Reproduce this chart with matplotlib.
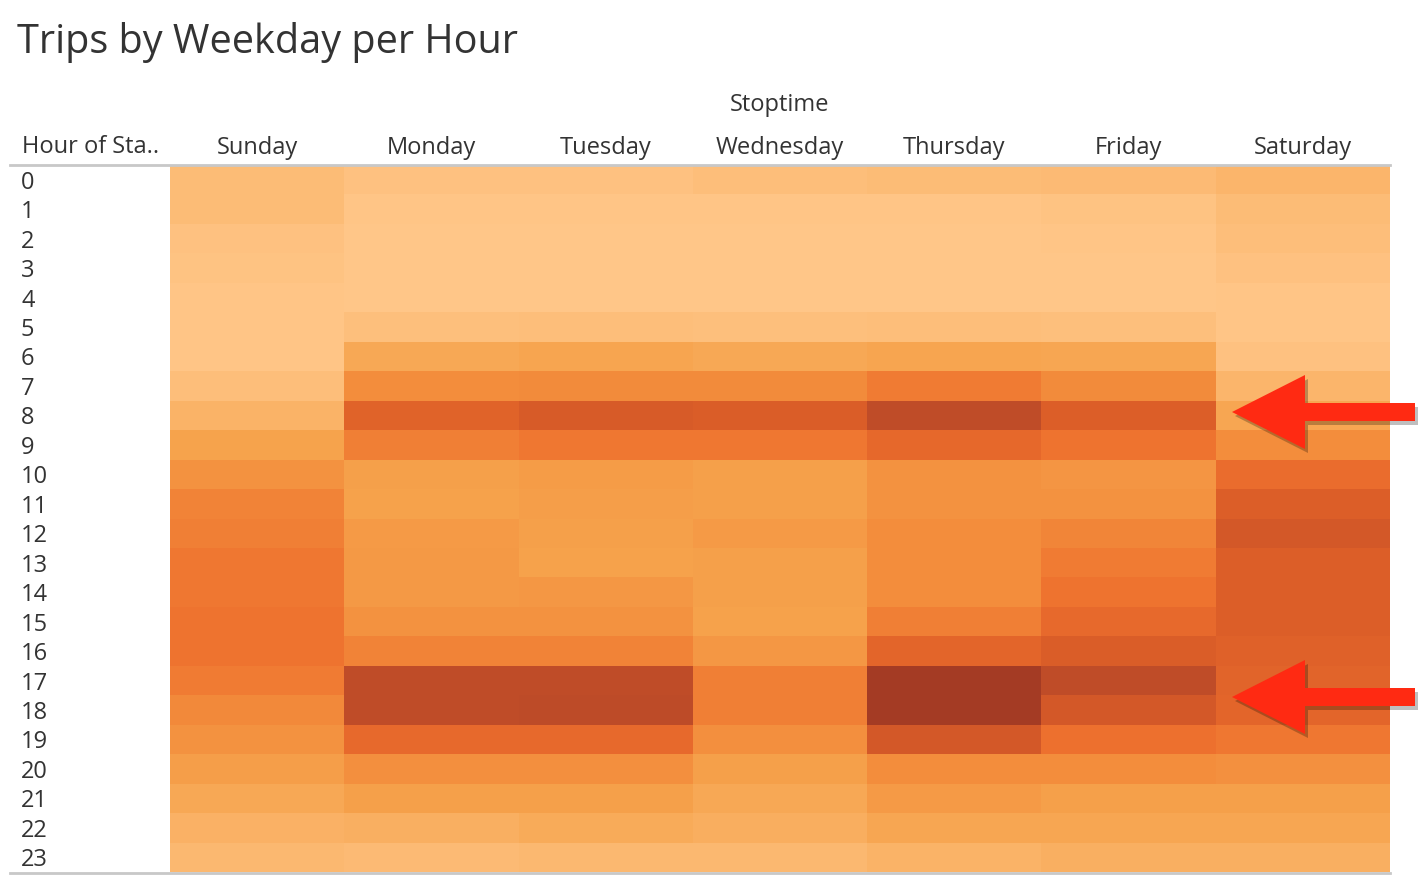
import numpy as np
import matplotlib
matplotlib.use("Agg")
import matplotlib.pyplot as plt
from matplotlib.colors import LinearSegmentedColormap
from matplotlib.patches import Polygon
from matplotlib.lines import Line2D
from matplotlib.transforms import blended_transform_factory

days = ["Sunday", "Monday", "Tuesday", "Wednesday", "Thursday", "Friday", "Saturday"]
hours = list(range(24))

sunday    = [6, 6, 3, 2, 1, 1, 1, 5, 11, 20, 30, 38, 40, 44, 44, 46, 46, 42, 35, 30, 23, 17, 12, 8]
monday    = [3, 1, 0, 0, 0, 4, 17, 33, 57, 40, 22, 21, 25, 26, 26, 30, 38, 78, 78, 52, 32, 22, 13, 7]
tuesday   = [3, 1, 0, 0, 0, 5, 19, 34, 63, 44, 24, 23, 22, 21, 27, 30, 38, 78, 79, 52, 32, 22, 16, 8]
wednesday = [5, 1, 0, 0, 0, 4, 17, 34, 61, 44, 22, 22, 25, 22, 22, 21, 27, 40, 40, 32, 22, 17, 14, 8]
thursday  = [6, 1, 0, 0, 0, 5, 19, 42, 78, 53, 30, 30, 33, 33, 33, 40, 55, 97, 97, 66, 33, 25, 18, 11]
friday    = [7, 2, 1, 0, 0, 4, 18, 34, 60, 46, 28, 30, 37, 42, 46, 52, 61, 78, 66, 48, 33, 22, 18, 13]
saturday  = [10, 6, 5, 3, 1, 1, 3, 10, 18, 33, 50, 60, 66, 60, 60, 60, 58, 56, 55, 44, 31, 22, 18, 13]

data = np.array([sunday, monday, tuesday, wednesday, thursday, friday, saturday]).T  # 24 x 7

# ---------------- figure ----------------
W, H = 1420, 886
fig = plt.figure(figsize=(W / 100, H / 100), dpi=100)
FONT = ["Open Sans", "DejaVu Sans"]
TXT = "#333333"
LBL = 17

def fx(px):
    return px / W

def fy(py):
    return 1 - py / H

left, right, top, bottom = 170, 1390, 165, 872
ax = fig.add_axes([fx(left), fy(bottom), fx(right - left), fy(top) - fy(bottom)])

cmap = LinearSegmentedColormap.from_list(
    "tab_orange",
    [(0.0, "#FFC688"), (0.2, "#F6A34C"), (0.35, "#F2893A"), (0.47, "#EE712E"),
     (0.6, "#DC5E28"), (0.78, "#BF4C28"), (1.0, "#A03923")])

ax.pcolormesh(np.arange(8), np.arange(25), data, cmap=cmap, vmin=0, vmax=100,
              shading="flat", edgecolor="face", linewidth=0)
ax.set_xlim(0, 7)
ax.set_ylim(24, 0)
ax.axis("off")

# row labels (baseline ~9 px below the row centre)
row_h = (bottom - top) / 24
tr = blended_transform_factory(fig.transFigure, ax.transData)
for h in hours:
    ax.text(fx(21), h + 0.5 + 9 / row_h, str(h), transform=tr, ha="left",
            va="baseline", fontsize=LBL, color=TXT, family=FONT, fontweight=500)

# column labels
for i, d in enumerate(days):
    fig.text(fx(left) + (i + 0.5) * fx(right - left) / 7, fy(154), d,
             ha="center", va="baseline", fontsize=LBL, color=TXT, family=FONT,
             fontweight=500)

fig.text(fx(780), fy(111), "Stoptime", ha="center", va="baseline",
         fontsize=LBL, color=TXT, family=FONT, fontweight=500)
fig.text(fx(22), fy(153), "Hour of Sta..", ha="left", va="baseline",
         fontsize=LBL, color=TXT, family=FONT, fontweight=500)
fig.text(fx(17), fy(53), "Trips by Weekday per Hour", ha="left", va="baseline",
         fontsize=28.5, color=TXT, family=FONT, fontweight="normal")

# separator lines
for yy in (165, 873):
    fig.add_artist(Line2D([fx(10), fx(1390)], [fy(yy), fy(yy)], color="#C8C8C8",
                          lw=2, transform=fig.transFigure))

# red annotation arrows
def arrow(cy):
    pts = [(1232, cy), (1305, cy - 37), (1305, cy - 9), (1415, cy - 9),
           (1415, cy + 9), (1305, cy + 9), (1305, cy + 37)]
    shadow = Polygon([(fx(x + 3), fy(y + 4)) for x, y in pts], closed=True,
                     transform=fig.transFigure, facecolor="#000000", alpha=0.25,
                     edgecolor="none")
    fig.add_artist(shadow)
    poly = Polygon([(fx(x), fy(y)) for x, y in pts], closed=True,
                   transform=fig.transFigure, facecolor="#FF2A12", edgecolor="none")
    fig.add_artist(poly)

arrow(412)
arrow(697)

fig.savefig("out.png", dpi=100, facecolor="white")
